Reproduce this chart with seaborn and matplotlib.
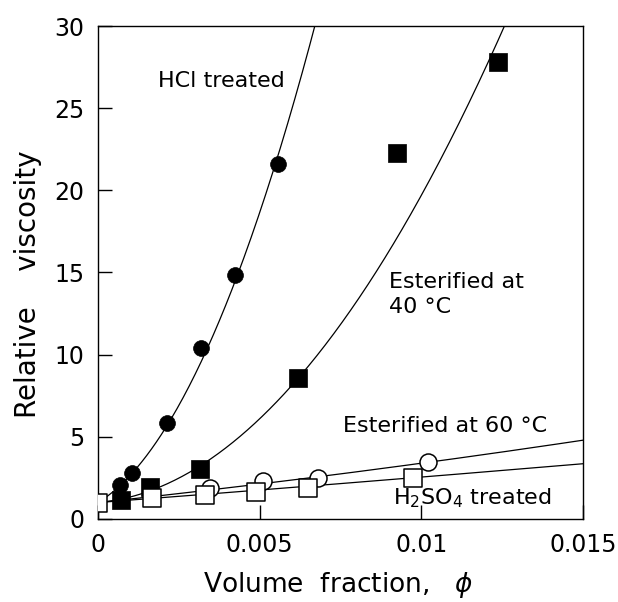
import numpy as np
import pandas as pd
import seaborn as sns
import matplotlib.pyplot as plt

# data
phi_hcl = [0.00068, 0.00104, 0.00213, 0.0032, 0.00424, 0.00557]
eta_hcl = [2.05, 2.8, 5.85, 10.4, 14.85, 21.6]

phi_e40 = [0.00071, 0.0016, 0.00315, 0.0062, 0.00924, 0.01237]
eta_e40 = [1.15, 1.93, 3.05, 8.6, 22.3, 27.8]

phi_e60 = [0.00347, 0.0051, 0.0068, 0.0102]
eta_e60 = [1.9, 2.3, 2.5, 3.45]

phi_h2so4 = [0.0, 0.00167, 0.0033, 0.0049, 0.0065, 0.00974]
eta_h2so4 = [1.0, 1.28, 1.45, 1.65, 1.9, 2.5]

# Huggins fits eta_r = 1 + a*phi + b*phi^2 (coefficients)
fit_a = {'hcl': 1200, 'e40': 170, 'e60': 212, 'h2so4': 150}
fit_b = {'hcl': 466000, 'e40': 170000, 'e60': 2735, 'h2so4': 500}

x_ticks = [0, 0.005, 0.01, 0.015]
x_ticklabels = ['0', '0.005', '0.01', '0.015']
y_ticks = [0, 5, 10, 15, 20, 25, 30]

sns.set_style('ticks')
plt.rcParams['font.family'] = ['DejaVu Sans']
plt.rcParams['text.color'] = 'black'
plt.rcParams['axes.labelcolor'] = 'black'
plt.rcParams['xtick.color'] = 'black'
plt.rcParams['ytick.color'] = 'black'

fig = plt.figure(figsize=(6.18, 6.02), dpi=100)
ax = fig.add_axes([0.1586, 0.1379, 0.7848, 0.8189])
ax.set_xlim(0, 0.015)
ax.set_ylim(0, 30)

grid = np.linspace(0, 0.015, 400)
for key in ['hcl', 'e40', 'e60', 'h2so4']:
    curve = pd.DataFrame({'phi': grid, 'eta': 1 + fit_a[key] * grid + fit_b[key] * grid ** 2})
    sns.lineplot(data=curve, x='phi', y='eta', ax=ax, color='black', lw=0.9, zorder=1)

sns.scatterplot(x=phi_e60, y=eta_e60, ax=ax, marker='o', s=150, color='white',
                edgecolor='black', linewidth=1.1, zorder=2)
sns.scatterplot(x=phi_e40, y=eta_e40, ax=ax, marker='s', s=150, color='black',
                edgecolor='black', linewidth=0.5, zorder=3)
sns.scatterplot(x=phi_hcl, y=eta_hcl, ax=ax, marker='o', s=130, color='black',
                edgecolor='black', linewidth=0.5, zorder=4)
sns.scatterplot(x=phi_h2so4, y=eta_h2so4, ax=ax, marker='s', s=150, color='white',
                edgecolor='black', linewidth=1.1, zorder=5)

ax.text(0.00186, 26.3, 'HCl treated', fontsize=16, va='baseline')
ax.text(0.0090, 14.06, 'Esterified at', fontsize=16, va='baseline')
ax.text(0.0090, 12.54, '40 \u00b0C', fontsize=16, va='baseline')
ax.text(0.00758, 5.3, 'Esterified at 60 \u00b0C', fontsize=16, va='baseline')
ax.text(0.00912, 0.91, 'H$_2$SO$_4$ treated', fontsize=16, va='baseline')

ax.set_xticks(x_ticks)
ax.set_xticklabels(x_ticklabels)
ax.set_yticks(y_ticks)
ax.tick_params(direction='in', length=10, width=1, labelsize=17, pad=10,
               top=False, right=False, colors='black')
for sp in ax.spines.values():
    sp.set_visible(True)
    sp.set_linewidth(1)
    sp.set_color('black')

ax.set_xlabel('Volume  fraction,   $\\phi$', fontsize=19)
ax.set_ylabel('Relative    viscosity', fontsize=20)
ax.xaxis.set_label_coords(0.495, -0.104)
ax.yaxis.set_label_coords(-0.116, 0.477)

fig.savefig('out.png', dpi=100)
